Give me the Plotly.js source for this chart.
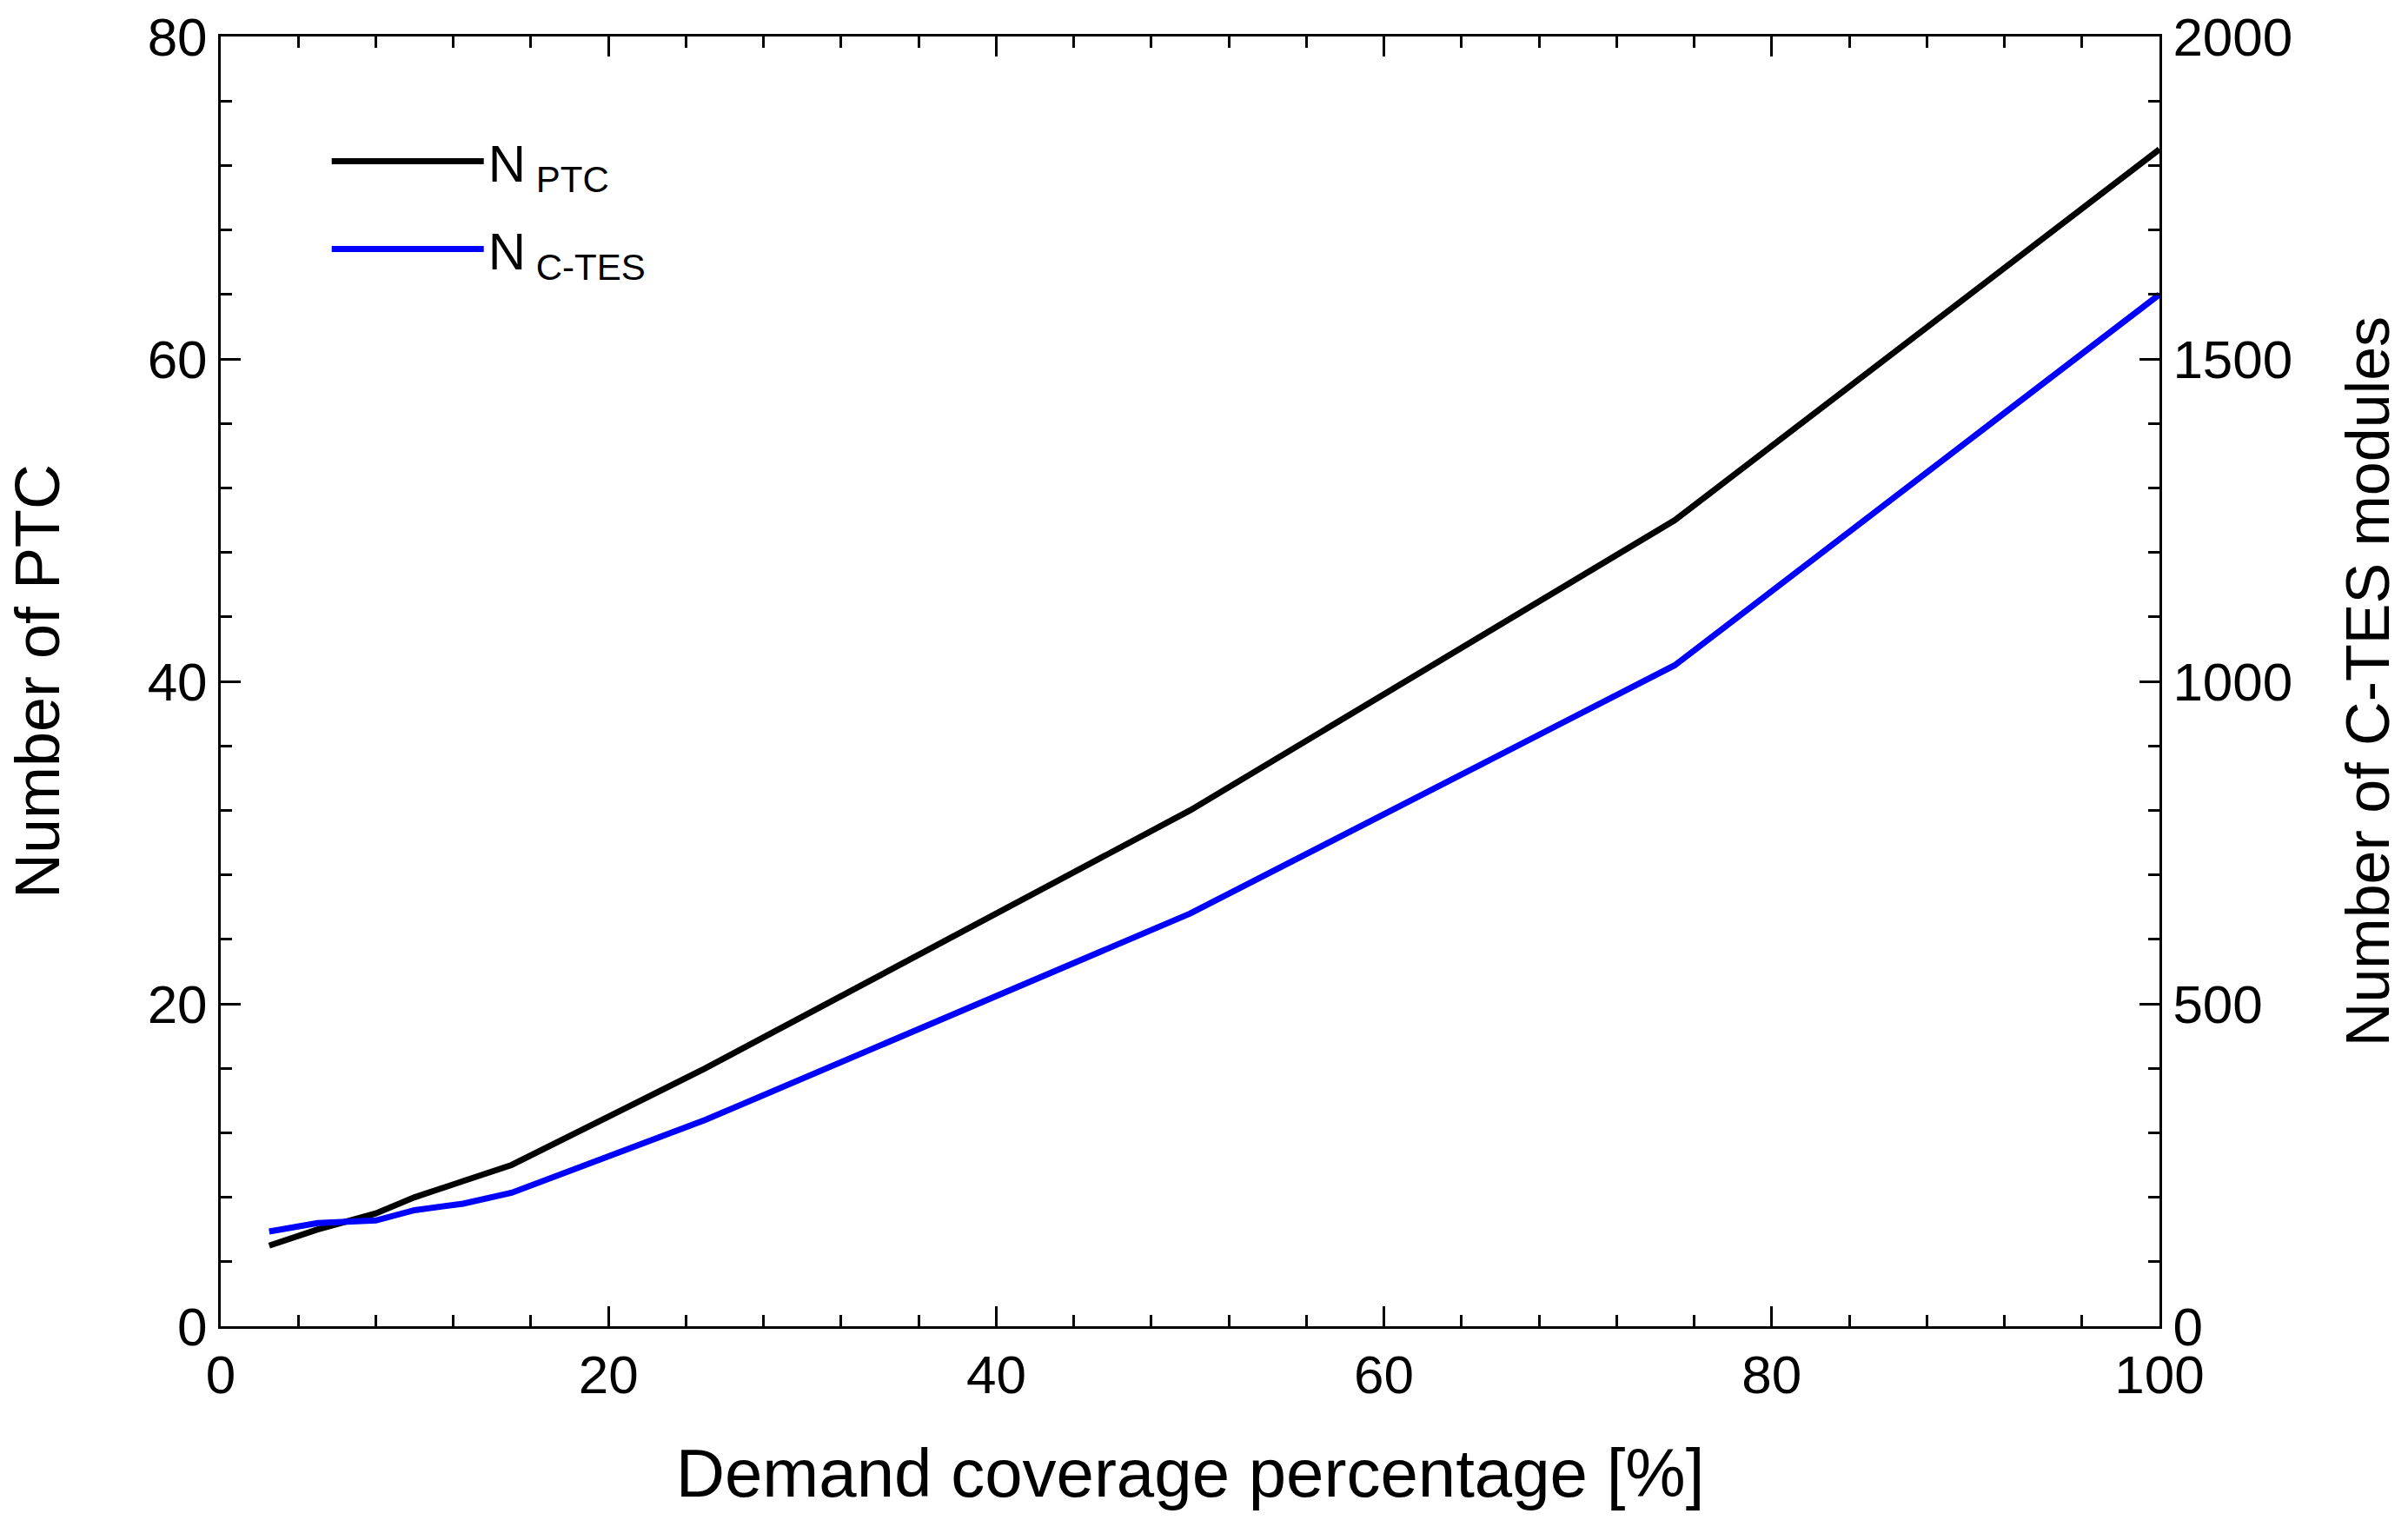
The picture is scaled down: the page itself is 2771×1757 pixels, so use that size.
<!DOCTYPE html>
<html>
<head>
<meta charset="utf-8">
<script src="https://cdn.plot.ly/plotly-3.0.1.min.js"></script>
<style>
  html, body { margin: 0; padding: 0; background: #fff; }
  #chart { width: 2771px; height: 1757px; }
</style>
</head>
<body>
<div id="chart"></div>
<script>
/* values */
const coverage = [2.5, 5, 8, 10, 12.5, 15, 25, 50, 75, 100];
const nPTC = [5, 6, 7, 8, 9, 10, 16, 32, 50, 73];
const nCTES = [147, 160, 164, 180, 190, 207, 320, 640, 1025, 1600];

const FONT = "Liberation Sans, Arial, sans-serif";

const axisCommon = {
    showgrid: false,
    zeroline: false,
    showline: true,
    linecolor: "#000",
    linewidth: 3,
    ticks: "inside",
    ticklen: 23,
    tickwidth: 3,
    tickcolor: "#000",
    tickfont: { family: FONT, size: 62, color: "#000" },
};

const tracePTC = {
    x: coverage,
    y: nPTC,
    name: "N<sub> PTC</sub>",
    type: "scatter",
    mode: "lines",
    legendgroup: "a",
    line: { color: "#000000", width: 7 },
};

const traceCTES = {
    x: coverage,
    y: nCTES,
    name: "N<sub> C-TES</sub>",
    type: "scatter",
    mode: "lines",
    yaxis: "y2",
    legendgroup: "b",
    line: { color: "#0000ff", width: 7 },
};

const layout = {
    width: 2771,
    height: 1757,
    margin: { l: 254, r: 286, t: 42, b: 231 },
    paper_bgcolor: "#fff",
    plot_bgcolor: "#fff",
    font: { family: FONT, color: "#000" },
    showlegend: true,
    legend: {
        x: 0.055,
        y: 0.934,
        xanchor: "left",
        yanchor: "top",
        bgcolor: "rgba(0,0,0,0)",
        itemwidth: 175,
        traceorder: "grouped",
        tracegroupgap: 20,
        font: { family: FONT, size: 60, color: "#000" },
    },
    xaxis: Object.assign({}, axisCommon, {
        range: [0, 100],
        dtick: 20,
        mirror: "ticks",
        minor: { dtick: 4, ticks: "inside", ticklen: 13, tickwidth: 3, tickcolor: "#000" },
        title: {
            text: "Demand coverage percentage [%]",
            font: { family: FONT, size: 78, color: "#000" },
            standoff: 52,
        },
    }),
    yaxis: Object.assign({}, axisCommon, {
        range: [0, 80],
        dtick: 20,
        mirror: true,
        minor: { dtick: 4, ticks: "inside", ticklen: 13, tickwidth: 3, tickcolor: "#000" },
        title: {
            text: "Number of PTC",
            font: { family: FONT, size: 72, color: "#000" },
            standoff: 78,
        },
    }),
    yaxis2: Object.assign({}, axisCommon, {
        range: [0, 2000],
        dtick: 500,
        overlaying: "y",
        side: "right",
        minor: { dtick: 100, ticks: "inside", ticklen: 13, tickwidth: 3, tickcolor: "#000" },
        title: {
            text: "Number of C-TES modules",
            font: { family: FONT, size: 70, color: "#000" },
            standoff: 63,
        },
    }),
};

Plotly.newPlot("chart", [tracePTC, traceCTES], layout, { displayModeBar: false, staticPlot: true });
</script>
</body>
</html>
